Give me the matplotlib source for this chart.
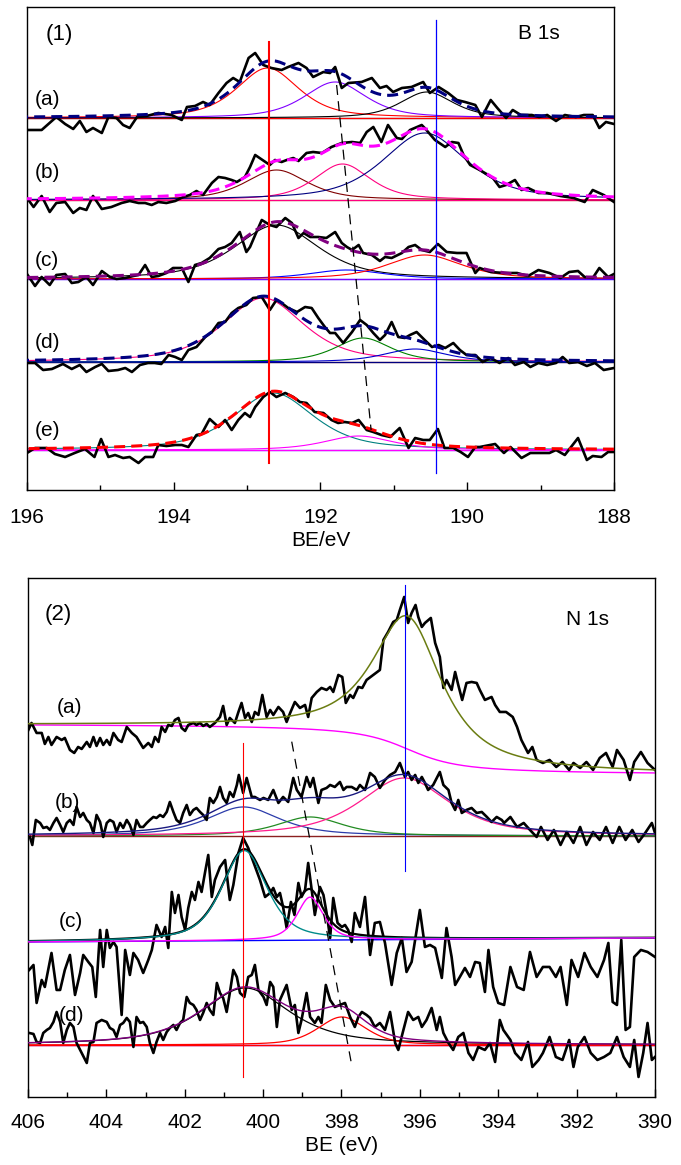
import numpy as np
import matplotlib
matplotlib.use('Agg')
import matplotlib.pyplot as plt
from matplotlib.ticker import MultipleLocator
import matplotlib.transforms as mtransforms

plt.rcParams['font.family'] = ['Liberation Sans', 'DejaVu Sans']

# ---------------- B 1s raw spectra (BE / eV, counts above fit baseline, a.u.)
b1s_a_be = [196.00, 195.80, 195.60, 195.48, 195.37, 195.28, 195.19, 195.10, 194.98, 194.89,
            194.78, 194.69, 194.60, 194.50, 194.37, 194.21, 194.03, 193.89, 193.82, 193.71,
            193.60, 193.51, 193.39, 193.28, 193.19, 193.10, 192.98, 192.89, 192.78, 192.67,
            192.53, 192.44, 192.30, 192.19, 192.10, 191.96, 191.87, 191.80, 191.71, 191.62,
            191.44, 191.30, 191.19, 191.10, 191.01, 190.89, 190.76, 190.60, 190.51, 190.39,
            190.26, 190.14, 190.03, 189.89, 189.80, 189.68, 189.59, 189.47, 189.38, 189.27,
            189.12, 189.02, 188.91, 188.79, 188.67, 188.52, 188.41, 188.29, 188.20, 188.11, 188.00]
b1s_a_int = [-12, -12, 1, -6, -11, -3, -14, -10, -15, 1,
             0, -7, -10, 1, 2, 5, 3, -2, 11, 12,
             16, 13, 25, 35, 40, 36, 60, 65, 53, 50,
             48, 51, 55, 50, 41, 46, 45, 51, 30, 35,
             36, 40, 30, 32, 26, 30, 31, 36, 25, 31,
             25, 18, 16, 13, 1, 18, 10, 0, 8, 3,
             3, 1, 3, -3, 3, 1, 3, 3, -10, -4, -6]

b1s_b_be = [196.00, 195.91, 195.80, 195.69, 195.60, 195.48, 195.37, 195.28, 195.19, 195.10,
            194.98, 194.85, 194.71, 194.60, 194.48, 194.39, 194.30, 194.21, 194.10, 193.98,
            193.87, 193.78, 193.69, 193.60, 193.48, 193.39, 193.30, 193.21, 193.14, 193.03,
            192.96, 192.89, 192.69, 192.62, 192.53, 192.46, 192.37, 192.30, 192.19, 192.10,
            191.98, 191.85, 191.71, 191.57, 191.46, 191.37, 191.28, 191.17, 191.08, 190.96,
            190.89, 190.78, 190.62, 190.58, 190.44, 190.30, 190.21, 190.12, 190.05, 189.96,
            189.83, 189.76, 189.65, 189.56, 189.47, 189.35, 189.26, 189.17, 189.03, 188.91,
            188.73, 188.55, 188.40, 188.29, 188.14, 188.00]
b1s_b_int = [2, -7, 4, -12, -3, -2, -13, -8, -10, 4,
             -9, -7, -3, -1, -3, -3, -5, -2, -3, -1,
             3, 5, 9, 5, 17, 23, 22, 20, 18, 23,
             33, 45, 35, 40, 38, 40, 42, 39, 47, 48,
             47, 53, 57, 58, 57, 68, 73, 58, 75, 62,
             61, 70, 75, 72, 60, 53, 58, 57, 45, 35,
             30, 27, 22, 13, 15, 20, 10, 12, 7, 7,
             4, 2, -2, 10, 5, -2]

b1s_c_be = [196.00, 195.89, 195.80, 195.69, 195.60, 195.48, 195.39, 195.30, 195.19, 195.10,
            194.98, 194.87, 194.78, 194.66, 194.55, 194.48, 194.39, 194.30, 194.21, 194.10,
            194.01, 193.89, 193.80, 193.71, 193.62, 193.51, 193.39, 193.30, 193.21, 193.10,
            193.01, 192.96, 192.89, 192.80, 192.69, 192.60, 192.48, 192.39, 192.30, 192.23,
            192.14, 192.03, 191.92, 191.80, 191.71, 191.64, 191.57, 191.48, 191.42, 191.30,
            191.19, 191.12, 191.03, 190.89, 190.80, 190.71, 190.62, 190.51, 190.40, 190.28,
            190.14, 190.01, 189.89, 189.83, 189.68, 189.50, 189.32, 189.17, 189.03, 188.88,
            188.73, 188.61, 188.49, 188.40, 188.29, 188.20, 188.08, 188.00]
b1s_c_int = [5, -7, 2, -6, 4, 5, -4, -3, 2, -6,
             8, 2, 0, 1, 3, 4, 14, 2, 3, 6,
             11, 11, -3, 14, 16, 21, 30, 32, 36, 47,
             27, 32, 44, 59, 54, 52, 61, 56, 41, 46,
             42, 42, 41, 47, 36, 32, 29, 34, 26, 24,
             18, 22, 21, 26, 32, 34, 29, 27, 35, 27,
             26, 26, 6, 11, 7, 6, 6, 3, 9, 6,
             1, 7, 8, 2, 1, 11, 2, 5]

b1s_d_be = [196.00, 195.89, 195.78, 195.66, 195.51, 195.39, 195.28, 195.19, 195.07, 194.98,
            194.89, 194.76, 194.66, 194.57, 194.46, 194.35, 194.26, 194.17, 194.07, 193.98,
            193.89, 193.80, 193.69, 193.57, 193.48, 193.39, 193.30, 193.21, 193.12, 193.01,
            192.92, 192.80, 192.69, 192.60, 192.53, 192.44, 192.32, 192.21, 192.12, 192.03,
            191.94, 191.87, 191.80, 191.69, 191.57, 191.46, 191.37, 191.28, 191.19, 191.12,
            191.03, 190.94, 190.85, 190.78, 190.69, 190.58, 190.48, 190.39, 190.30, 190.19,
            190.10, 190.01, 189.89, 189.79, 189.68, 189.56, 189.44, 189.35, 189.23, 189.14,
            189.03, 188.91, 188.79, 188.70, 188.61, 188.49, 188.37, 188.26, 188.14, 188.00]
b1s_d_int = [-1, -1, -8, -7, -2, -7, -3, -10, -5, -2,
             -9, -8, -6, -10, -3, -1, -1, -2, 7, 5,
             2, 12, 15, 25, 30, 39, 40, 49, 54, 57,
             64, 65, 52, 62, 59, 54, 50, 55, 54, 44,
             35, 29, 29, 19, 30, 42, 37, 29, 22, 27,
             40, 25, 24, 27, 30, 22, 15, 17, 14, 19,
             12, 7, 7, 0, 4, -1, 4, -3, 0, -5,
             -1, -3, -1, 5, -1, 0, -4, -1, -8, -6]

b1s_e_be = [196.00, 195.89, 195.73, 195.62, 195.48, 195.35, 195.21, 195.08, 194.99, 194.89,
            194.80, 194.69, 194.60, 194.48, 194.39, 194.28, 194.21, 194.10, 193.98, 193.89,
            193.80, 193.69, 193.62, 193.51, 193.39, 193.30, 193.21, 193.12, 193.03, 192.96,
            192.89, 192.78, 192.69, 192.60, 192.48, 192.37, 192.28, 192.19, 192.08, 191.96,
            191.85, 191.76, 191.67, 191.57, 191.48, 191.37, 191.28, 191.17, 191.05, 190.92,
            190.80, 190.71, 190.60, 190.51, 190.40, 190.31, 190.19, 190.09, 189.99, 189.89,
            189.83, 189.62, 189.50, 189.41, 189.26, 189.14, 189.03, 188.88, 188.79, 188.67,
            188.49, 188.37, 188.29, 188.17, 188.08, 188.00]
b1s_e_int = [-3, 2, 2, -4, -7, -3, 1, -7, 11, -7,
             -5, -8, -7, -13, -7, -7, 5, 4, 5, 5,
             3, 15, 16, 31, 23, 30, 20, 30, 37, 33,
             43, 53, 58, 53, 57, 53, 48, 47, 38, 37,
             30, 27, 28, 27, 30, 20, 18, 15, 13, 22,
             2, 12, 10, 10, 21, 2, 2, -2, -7, 3,
             3, 6, -3, 3, -8, -3, -3, -3, 0, -5,
             12, -10, -6, -7, -2, -2]

# B 1s fitted components: centre (eV), height, FWHM (eV)
b1s_a_cen, b1s_a_h, b1s_a_w = [192.72, 191.80, 190.55], [50, 36, 26], [1.0, 1.0, 0.85]
b1s_b_cen, b1s_b_h, b1s_b_w = [192.60, 191.70, 190.58], [30, 36, 67], [1.0, 0.9, 1.35]
b1s_c_cen, b1s_c_h, b1s_c_w = [192.60, 191.64, 190.58], [54, 9, 24], [1.35, 1.2, 1.2]
b1s_d_cen, b1s_d_h, b1s_d_w = [192.78, 191.42, 190.71], [64, 24, 13], [1.3, 0.9, 1.0]
b1s_e_cen, b1s_e_h, b1s_e_w = [192.64, 191.48], [57, 14], [1.3, 1.1]
b1s_eta = 0.6
b1s_ref_be = [192.70, 190.43]          # vertical reference lines
b1s_shift_be = [191.78, 191.31]        # dashed guide through middle peaks

# ---------------- N 1s raw spectra
n1s_a_be = [405.99, 405.91, 405.78, 405.65, 405.57, 405.48, 405.40, 405.27, 405.14, 405.06,
            404.93, 404.82, 404.72, 404.63, 404.50, 404.42, 404.33, 404.25, 404.16, 404.08,
            403.99, 403.91, 403.82, 403.70, 403.61, 403.48, 403.35, 403.23, 403.06, 402.93,
            402.84, 402.76, 402.67, 402.59, 402.50, 402.42, 402.33, 402.25, 402.16, 402.08,
            401.99, 401.91, 401.78, 401.70, 401.61, 401.53, 401.44, 401.36, 401.23, 401.10,
            401.02, 400.93, 400.85, 400.72, 400.63, 400.55, 400.46, 400.38, 400.29, 400.21,
            400.12, 400.02, 399.91, 399.82, 399.74, 399.61, 399.49, 399.40, 399.31, 399.19,
            399.06, 398.93, 398.85, 398.76, 398.63, 398.51, 398.38, 398.29, 398.21, 398.08,
            397.98, 397.89, 397.78, 397.70, 397.57, 397.47, 397.36, 397.19, 397.02, 396.93,
            396.81, 396.68, 396.59, 396.51, 396.40, 396.30, 396.21, 396.11, 396.04, 395.95,
            395.87, 395.72, 395.61, 395.49, 395.40, 395.32, 395.19, 395.10, 395.02, 394.92,
            394.81, 394.68, 394.55, 394.47, 394.34, 394.17, 394.08, 393.96, 393.80, 393.63,
            393.52, 393.41, 393.24, 393.13, 393.02, 392.86, 392.69, 392.52, 392.36, 392.19,
            392.08, 391.91, 391.75, 391.58, 391.41, 391.25, 391.08, 390.97, 390.80, 390.64,
            390.53, 390.36, 390.19, 390.00]
n1s_a_int = [43, 50, 40, 40, 29, 36, 28, 36, 33, 35,
             23, 20, 26, 24, 31, 26, 36, 27, 35, 28,
             33, 28, 40, 33, 31, 46, 40, 36, 25, 30,
             26, 36, 31, 46, 41, 48, 47, 53, 55, 45,
             42, 48, 50, 48, 50, 47, 49, 46, 50, 56,
             67, 48, 55, 50, 61, 70, 55, 60, 51, 61,
             58, 78, 56, 63, 58, 66, 61, 51, 60, 71,
             65, 68, 56, 75, 81, 85, 83, 86, 81, 98,
             96, 70, 78, 75, 86, 85, 93, 98, 103, 133,
             141, 151, 153, 163, 176, 150, 160, 168, 156, 146,
             150, 155, 130, 116, 85, 93, 83, 101, 88, 73,
             90, 91, 90, 83, 73, 76, 68, 61, 61, 56,
             46, 33, 20, 26, 13, 10, 13, 6, 11, 3,
             10, 5, 11, 3, 15, 20, 6, 23, 13, -7,
             11, 21, 10, 3]

n1s_b_be = [405.95, 405.89, 405.80, 405.69, 405.61, 405.52, 405.44, 405.35, 405.27, 405.18,
            405.10, 405.01, 404.93, 404.84, 404.76, 404.67, 404.59, 404.50, 404.42, 404.33,
            404.25, 404.16, 404.08, 403.99, 403.91, 403.82, 403.74, 403.65, 403.57, 403.48,
            403.40, 403.31, 403.23, 403.14, 403.06, 402.97, 402.89, 402.80, 402.72, 402.63,
            402.55, 402.46, 402.38, 402.29, 402.21, 402.12, 402.04, 401.95, 401.87, 401.78,
            401.70, 401.61, 401.53, 401.44, 401.36, 401.27, 401.18, 401.10, 401.02, 400.93,
            400.85, 400.76, 400.67, 400.62, 400.51, 400.42, 400.29, 400.21, 400.08, 399.99,
            399.87, 399.74, 399.61, 399.49, 399.36, 399.23, 399.14, 399.02, 398.89, 398.80,
            398.72, 398.59, 398.51, 398.38, 398.29, 398.17, 398.04, 397.95, 397.87, 397.74,
            397.61, 397.53, 397.40, 397.27, 397.15, 397.02, 396.89, 396.76, 396.63, 396.51,
            396.38, 396.30, 396.21, 396.12, 396.04, 395.95, 395.87, 395.79, 395.66, 395.49,
            395.40, 395.27, 395.19, 395.10, 395.02, 394.93, 394.81, 394.68, 394.55, 394.42,
            394.29, 394.17, 394.04, 393.91, 393.85, 393.69, 393.52, 393.35, 393.19, 393.02,
            392.91, 392.74, 392.58, 392.41, 392.25, 392.08, 391.91, 391.75, 391.58, 391.41,
            391.25, 391.08, 390.91, 390.75, 390.58, 390.42, 390.25, 390.08, 390.00]
n1s_b_int = [-1, -9, 16, 13, 8, 9, 6, 13, 18, 11,
             4, 13, 16, 11, 29, 19, 23, 16, 13, 3,
             21, 14, -1, 13, 16, 14, 4, 13, 8, 16,
             11, 1, 16, 9, 9, 13, 16, 19, 18, 21,
             19, 24, 34, 24, 16, 13, 23, 31, 21, 26,
             28, 24, 21, 16, 38, 33, 39, 49, 38, 33,
             44, 39, 51, 61, 43, 58, 39, 39, 36, 38,
             36, 46, 33, 39, 34, 58, 46, 39, 59, 49,
             58, 33, 46, 48, 51, 49, 54, 46, 49, 49,
             46, 51, 46, 63, 59, 48, 56, 61, 64, 73,
             59, 64, 56, 61, 53, 59, 53, 46, 51, 64,
             51, 46, 33, 26, 36, 23, 26, 28, 23, 24,
             19, 14, 19, 16, 13, 19, 9, 13, 6, -1,
             9, -4, 6, -9, 4, -7, 9, -9, 4, -4,
             9, -7, 9, -4, 6, -6, 3, 13, 3]

n1s_c_be = [405.97, 405.86, 405.78, 405.65, 405.57, 405.40, 405.27, 405.18, 405.06, 404.93,
            404.80, 404.67, 404.59, 404.46, 404.36, 404.27, 404.16, 404.08, 403.99, 403.91,
            403.82, 403.74, 403.61, 403.52, 403.40, 403.31, 403.19, 403.06, 402.93, 402.84,
            402.72, 402.59, 402.50, 402.42, 402.33, 402.25, 402.16, 402.08, 401.99, 401.91,
            401.82, 401.74, 401.65, 401.57, 401.48, 401.40, 401.31, 401.23, 401.10, 400.97,
            400.85, 400.76, 400.63, 400.51, 400.38, 400.25, 400.08, 399.95, 399.82, 399.74,
            399.65, 399.57, 399.49, 399.40, 399.29, 399.20, 399.10, 399.02, 398.93, 398.85,
            398.76, 398.68, 398.55, 398.46, 398.38, 398.29, 398.21, 398.10, 397.99, 397.91,
            397.83, 397.74, 397.66, 397.53, 397.40, 397.27, 397.15, 397.02, 396.89, 396.72,
            396.59, 396.46, 396.34, 396.21, 396.00, 395.87, 395.74, 395.61, 395.44, 395.32,
            395.19, 395.10, 394.98, 394.85, 394.72, 394.59, 394.47, 394.34, 394.25, 394.13,
            394.00, 393.85, 393.69, 393.52, 393.35, 393.19, 393.02, 392.86, 392.69, 392.53,
            392.41, 392.25, 392.13, 391.96, 391.80, 391.64, 391.47, 391.30, 391.19, 391.08,
            390.97, 390.86, 390.75, 390.64, 390.53, 390.36, 390.19, 390.00]
n1s_c_int = [-28, -23, -61, -38, -45, -11, -48, -48, -28, -13,
             -53, -31, -13, -20, -25, -55, 12, -25, 12, -6,
             0, -5, -73, -8, -33, -11, -18, -31, -18, -8,
             17, 5, 15, -6, 50, 29, 47, 25, 12, 34,
             50, 42, 60, 50, 70, 87, 45, 62, 75, 82,
             42, 57, 89, 104, 94, 80, 62, 45, 49, 54,
             45, 49, 35, 14, 40, 27, 59, 45, 52, 79,
             52, 27, 55, 47, 29, 4, 44, 19, 15, 17,
             12, 0, 29, 15, 45, -13, 19, 20, -1, -43,
             -11, 4, -30, -20, 32, -5, -3, -6, -36, 14,
             -15, -43, -35, -26, -35, -20, -21, -50, -8, -45,
             -61, -63, -25, -45, -48, -10, -35, -25, -25, -35,
             -25, -63, -18, -35, -11, -25, -35, -18, -1, -60,
             -63, 2, -88, -85, -15, -8, -10, -15]

n1s_d_be = [405.97, 405.86, 405.78, 405.69, 405.61, 405.52, 405.44, 405.35, 405.27, 405.18,
            405.10, 405.01, 404.93, 404.84, 404.76, 404.63, 404.50, 404.42, 404.33, 404.25,
            404.12, 403.99, 403.91, 403.82, 403.74, 403.65, 403.57, 403.48, 403.40, 403.31,
            403.23, 403.14, 403.06, 402.97, 402.89, 402.80, 402.72, 402.63, 402.55, 402.46,
            402.38, 402.29, 402.21, 402.12, 402.04, 401.95, 401.87, 401.78, 401.70, 401.61,
            401.53, 401.44, 401.36, 401.27, 401.18, 401.10, 401.02, 400.93, 400.85, 400.76,
            400.67, 400.59, 400.48, 400.38, 400.29, 400.21, 400.12, 399.99, 399.91, 399.82,
            399.74, 399.65, 399.57, 399.49, 399.40, 399.27, 399.19, 399.10, 399.02, 398.89,
            398.80, 398.68, 398.59, 398.51, 398.40, 398.29, 398.17, 398.04, 397.91, 397.78,
            397.66, 397.57, 397.48, 397.36, 397.27, 397.15, 397.02, 396.89, 396.76, 396.63,
            396.55, 396.42, 396.30, 396.17, 396.04, 395.95, 395.83, 395.70, 395.57, 395.49,
            395.40, 395.27, 395.15, 395.02, 394.89, 394.76, 394.64, 394.51, 394.34, 394.21,
            394.08, 393.96, 393.87, 393.69, 393.57, 393.41, 393.24, 393.13, 392.97, 392.86,
            392.69, 392.53, 392.36, 392.19, 392.08, 391.97, 391.80, 391.64, 391.47, 391.30,
            391.14, 390.97, 390.80, 390.64, 390.53, 390.42, 390.30, 390.19, 390.08, 390.00]
n1s_d_int = [12, 11, 3, 2, 12, 15, 17, 23, 33, 23,
             2, 15, 22, 18, 2, -8, -18, 2, 3, 22,
             25, 23, 17, 15, 8, 20, 22, 27, 23, -2,
             28, 22, 23, 18, 2, -8, 3, 12, 5, 13,
             17, 20, 15, 22, 25, 48, 42, 40, 35, 25,
             32, 42, 35, 30, 62, 52, 47, 33, 52, 75,
             68, 52, 48, 68, 70, 80, 55, 48, 40, 63,
             58, 18, 45, 52, 60, 35, 40, 12, 25, 52,
             28, 22, 28, 22, 60, 45, 38, 40, 42, 28,
             18, 28, 33, 30, 27, 18, 22, 15, 33, 2,
             -5, 15, 33, 25, 28, 18, 25, 37, 15, 28,
             12, 2, -5, 8, 12, -8, -15, -2, -5, 2,
             -17, 25, 15, 5, -8, -15, 3, -22, -15, -8,
             8, -12, -15, 5, -22, -2, 8, -8, -15, -12,
             -8, 8, -12, -22, 5, -32, -8, 22, -15, -12]

# N 1s fitted components: centre, height, FWHM, Lorentzian fraction
n1s_a_cen, n1s_a_h, n1s_a_w, n1s_a_eta = [396.30], [133], [2.1], [0.85]
n1s_a_shirley = [48, 0]                # background level at 406 eV and 390 eV
n1s_b_cen, n1s_b_h, n1s_b_w, n1s_b_eta = [400.50, 398.80, 396.40], [29, 19, 58], [2.2, 2.0, 2.7], [0.7, 0.7, 0.7]
n1s_c_cen, n1s_c_h, n1s_c_w, n1s_c_eta = [400.48, 398.80], [90, 43], [1.36, 0.8], [0.6, 0.6]
n1s_c_linbg = [0, 4]                   # linear background at 406 eV and 390 eV
n1s_d_cen, n1s_d_h, n1s_d_w, n1s_d_eta = [400.46, 397.99], [57, 28], [2.67, 1.45], [0.7, 0.5]
n1s_ref_be = [400.51, 396.38]
n1s_shift_be = [399.27, 397.74]


def pvoigt(x, c, h, w, eta):
    u = ((x - c) / w) ** 2
    return h * (eta / (1 + 4 * u) + (1 - eta) * np.exp(-4 * np.log(2) * u))


fig = plt.figure(figsize=(6.81, 11.65), dpi=100)
ax1 = fig.add_axes([0.0396, 0.5794, 0.862, 0.4146])
ax2 = fig.add_axes([0.0411, 0.0584, 0.9207, 0.4455])

env_dash = (0, (3.6, 2.0))

# ---------------- panel (1): B 1s
x1 = np.linspace(188, 196, 801)
b1s_sets = [
    (b1s_a_be, b1s_a_int, b1s_a_cen, b1s_a_h, b1s_a_w, 372,
     ['#FF0000', '#8000FF', '#000000'], '#000080', ['#000000', '#FF0000']),
    (b1s_b_be, b1s_b_int, b1s_b_cen, b1s_b_h, b1s_b_w, 290,
     ['#800000', '#FF0080', '#000080'], '#FF00FF', ['#808000', '#FF0080']),
    (b1s_c_be, b1s_c_int, b1s_c_cen, b1s_c_h, b1s_c_w, 211,
     ['#000000', '#0000FF', '#FF0000'], '#800080', ['#0000FF', '#8000FF']),
    (b1s_d_be, b1s_d_int, b1s_d_cen, b1s_d_h, b1s_d_w, 128,
     ['#FF0080', '#008000', '#0000CC'], '#000080', ['#800000', '#000080']),
    (b1s_e_be, b1s_e_int, b1s_e_cen, b1s_e_h, b1s_e_w, 40,
     ['#008080', '#FF00FF'], '#FF0000', ['#0000FF', '#FF00FF']),
]
for be, inten, cen, h, w, off, ccols, ecol, bcols in b1s_sets:
    for bc in bcols:
        ax1.plot([188, 196], [off, off], color=bc, lw=0.9, zorder=2)
    env = np.zeros_like(x1)
    for c, hh, ww, col in zip(cen, h, w, ccols):
        comp = pvoigt(x1, c, hh, ww, b1s_eta)
        env += comp
        ax1.plot(x1, comp + off, color=col, lw=0.8, zorder=2)
    ax1.plot(be, np.array(inten) + off, color='black', lw=1.9, zorder=3)
    ax1.plot(x1, env + off, color=ecol, lw=2.2, ls=env_dash, zorder=4)

ax1.axvline(b1s_ref_be[0], ymin=0.056, ymax=0.928, color='#FF0000', lw=1.5, zorder=5)
ax1.axvline(b1s_ref_be[1], ymin=0.035, ymax=0.973, color='#0000FF', lw=0.9, zorder=5)
tr1 = mtransforms.blended_transform_factory(ax1.transData, ax1.transAxes)
ax1.plot(b1s_shift_be, [0.8385, 0.124], transform=tr1, color='black', lw=0.9,
         ls=(0, (8, 5)), zorder=5)

ax1.set_xlim(196, 188)
ax1.set_ylim(0, 483)
ax1.set_xlabel('BE/eV', fontsize=15, labelpad=3)
ax1.text(0.0317, 0.944, '(1)', transform=ax1.transAxes, fontsize=16, va='center')
ax1.text(0.836, 0.945, 'B 1s', transform=ax1.transAxes, fontsize=15, va='center')
for lab, yy in zip(['(a)', '(b)', '(c)', '(d)', '(e)'], [0.8095, 0.657, 0.476, 0.306, 0.124]):
    ax1.text(0.0136, yy, lab, transform=ax1.transAxes, fontsize=15, va='center')

# ---------------- panel (2): N 1s
x2 = np.linspace(390, 406, 1601)

# (a) single peak on Shirley background
pk = pvoigt(x2, n1s_a_cen[0], n1s_a_h[0], n1s_a_w[0], n1s_a_eta[0])
cum = np.cumsum(pk)
shirley = n1s_a_shirley[1] + (n1s_a_shirley[0] - n1s_a_shirley[1]) * cum / cum[-1]
off = 324
ax2.plot(x2, shirley + off, color='#FF00FF', lw=1.0, zorder=2)
ax2.plot(n1s_a_be, np.array(n1s_a_int) + off, color='black', lw=1.9, zorder=3)
ax2.plot(x2, shirley + pk + off, color='#6B7D12', lw=1.1, zorder=4)

# (b)
off = 261
ax2.plot([390, 406], [off, off], color='#8B2020', lw=1.0, zorder=2)
env = np.zeros_like(x2)
for c, hh, ww, et, col in zip(n1s_b_cen, n1s_b_h, n1s_b_w, n1s_b_eta,
                              ['#2B3BAA', '#228B22', '#FF1A8C']):
    comp = pvoigt(x2, c, hh, ww, et)
    env += comp
    ax2.plot(x2, comp + off, color=col, lw=0.9, zorder=2)
ax2.plot(n1s_b_be, np.array(n1s_b_int) + off, color='black', lw=1.9, zorder=3)
ax2.plot(x2, env + off, color='#1A1A80', lw=1.0, zorder=4)

# (c)
off = 155
linbg = np.interp(x2, [390, 406], n1s_c_linbg[::-1])
ax2.plot(x2, linbg + off, color='#0000FF', lw=1.0, zorder=2)
env = linbg.copy()
comps = []
for c, hh, ww, et in zip(n1s_c_cen, n1s_c_h, n1s_c_w, n1s_c_eta):
    comp = pvoigt(x2, c, hh, ww, et)
    env += comp
    comps.append(comp)
ax2.plot(n1s_c_be, np.array(n1s_c_int) + off, color='black', lw=1.9, zorder=3)
ax2.plot(x2, env + off, color='black', lw=1.6, zorder=4)
for comp, col in zip(comps, ['#008B8B', '#FF00FF']):
    ax2.plot(x2, comp + linbg + off, color=col, lw=1.0, zorder=4)

# (d)
off = 52
for bc in ['#8000FF', '#FF0000']:
    ax2.plot([390, 406], [off, off], color=bc, lw=1.0, zorder=2)
env = np.zeros_like(x2)
for c, hh, ww, et, col in zip(n1s_d_cen, n1s_d_h, n1s_d_w, n1s_d_eta, ['#000000', '#FF0000']):
    comp = pvoigt(x2, c, hh, ww, et)
    env += comp
    ax2.plot(x2, comp + off, color=col, lw=0.9, zorder=2)
ax2.plot(n1s_d_be, np.array(n1s_d_int) + off, color='black', lw=1.9, zorder=3)
ax2.plot(x2, env + off, color='#800080', lw=1.0, zorder=4)

ax2.axvline(n1s_ref_be[0], ymin=0.039, ymax=0.682, color='#FF0000', lw=0.8, zorder=5)
ax2.axvline(n1s_ref_be[1], ymin=0.436, ymax=0.9865, color='#0000FF', lw=0.8, zorder=5)
tr2 = mtransforms.blended_transform_factory(ax2.transData, ax2.transAxes)
ax2.plot(n1s_shift_be, [0.6846, 0.0617], transform=tr2, color='black', lw=0.9,
         ls=(0, (8, 6)), zorder=5)

ax2.set_xlim(406, 390)
ax2.set_ylim(0, 519)
ax2.set_xlabel('BE (eV)', fontsize=15, labelpad=3)
ax2.text(0.027, 0.9287, '(2)', transform=ax2.transAxes, fontsize=16, va='center')
ax2.text(0.858, 0.919, 'N 1s', transform=ax2.transAxes, fontsize=15, va='center')
for lab, xx, yy in zip(['(a)', '(b)', '(c)', '(d)'], [0.0458, 0.043, 0.0483, 0.0483],
                       [0.7495, 0.5665, 0.3378, 0.156]):
    ax2.text(xx, yy, lab, transform=ax2.transAxes, fontsize=15, va='center')

for ax, pad in [(ax1, 13), (ax2, 11.3)]:
    ax.xaxis.set_major_locator(MultipleLocator(2))
    ax.xaxis.set_minor_locator(MultipleLocator(1))
    ax.tick_params(axis='x', which='major', direction='in', length=6, width=1,
                   labelsize=15, pad=pad, top=False)
    ax.tick_params(axis='x', which='minor', direction='in', length=3.5, width=1, top=False)
    ax.set_yticks([])
    for sp in ax.spines.values():
        sp.set_linewidth(1.0)

fig.savefig('out.png', dpi=100)
